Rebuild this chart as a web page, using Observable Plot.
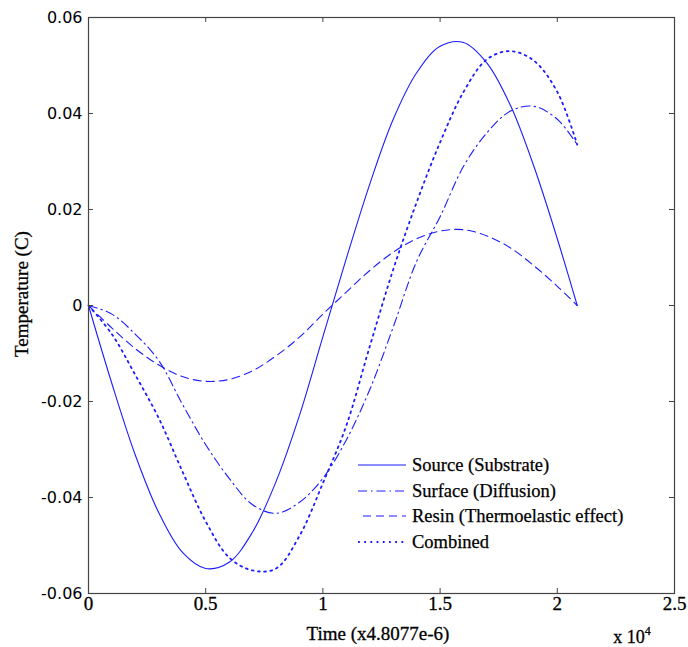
<!DOCTYPE html>
<html><head><meta charset="utf-8">
<script src="https://cdn.jsdelivr.net/npm/d3@7"></script>
<script src="https://cdn.jsdelivr.net/npm/@observablehq/plot@0.6"></script>
<style>
body{margin:0;background:#fff}
#wrap{position:relative;width:688px;height:647px}
#wrap .xtl, #wrap .xtl text{font-family:"Liberation Serif",serif !important}
#wrap .ytl, #wrap .ytl text{font-family:"DejaVu Sans",sans-serif !important}
.leg{position:absolute;left:358px;height:20px;display:flex;align-items:center;font-family:"Liberation Serif",serif;font-size:18.5px;color:#000;white-space:nowrap;-webkit-text-stroke:0.25px #000}
.leg svg{width:48px;height:20px;margin-right:6px}
</style></head>
<body><div id="wrap"></div>
<script>
const xs = [0,0.1,0.2,0.3,0.4,0.5,0.6,0.7,0.8,0.9,1.0,1.1,1.2,1.3,1.4,1.5,1.6,1.7,1.8,1.9,2.0,2.085];
const source   = [0,-0.0163,-0.0312,-0.0432,-0.0514,-0.0548,-0.0535,-0.0472,-0.0367,-0.0229,-0.0065,0.0098,0.0253,0.0388,0.0485,0.0540,0.0548,0.0505,0.0417,0.0290,0.0139,0];
const surface  = [0,-0.0018,-0.0060,-0.0115,-0.0205,-0.0290,-0.0360,-0.0415,-0.0433,-0.0410,-0.0360,-0.0280,-0.0175,-0.0045,0.0092,0.0185,0.0290,0.0360,0.0405,0.0415,0.0388,0.0335];
const resin    = [0,-0.0047,-0.0090,-0.0124,-0.0148,-0.0158,-0.0154,-0.0136,-0.0105,-0.0066,-0.0018,0.0028,0.0073,0.0111,0.0139,0.0155,0.0158,0.0145,0.0120,0.0083,0.0040,0];
const combined = [0,-0.0060,-0.0145,-0.0235,-0.0345,-0.0450,-0.0525,-0.0552,-0.0548,-0.0480,-0.0370,-0.0250,-0.0085,0.0075,0.0215,0.0340,0.0445,0.0513,0.0530,0.0510,0.0445,0.0335];
const seriesNames = ["Source (Substrate)","Surface (Diffusion)","Resin (Thermoelastic effect)","Combined"];
const xTicks = [0,0.5,1,1.5,2,2.5];
const xTickLabels = ["0","0.5","1","1.5","2","2.5"];
const yTicks = [-0.06,-0.04,-0.02,0,0.02,0.04,0.06];
const yTickLabels = ["-0.06","-0.04","-0.02","0","0.02","0.04","0.06"];

const W = 688, H = 647, mL = 88, mR = 14, mT = 17, mB = 54;
const innerW = W - mL - mR, innerH = H - mT - mB;
const blue = "#1c1cff";
const serif = "'Liberation Serif', serif";
const dashes = [null, "9,4,1.5,4", "8,5", "1.8,4.4"];
const widths = [1.1, 1.1, 1.1, 1.8];
const allSeries = [source, surface, resin, combined];

const lineMarks = allSeries.map((vals, k) =>
  Plot.line(xs.map((x, i) => ({x, y: vals[i]})), {
    x: "x", y: "y", stroke: blue, strokeWidth: widths[k],
    strokeDasharray: dashes[k] || undefined, curve: "catmull-rom"
  })
);

const chart = Plot.plot({
  width: W, height: H,
  marginLeft: mL, marginRight: mR, marginTop: mT, marginBottom: mB,
  x: {domain: [0, 2.5], axis: null},
  y: {domain: [-0.06, 0.06], axis: null},
  style: {background: "#fff"},
  marks: [
    ...lineMarks,
    Plot.frame({stroke: "#444", strokeWidth: 1.2}),
    Plot.tickX(xTicks, {x: d => d, insetTop: innerH - 5, stroke: "#444"}),
    Plot.tickX(xTicks, {x: d => d, insetBottom: innerH - 5, stroke: "#444"}),
    Plot.tickY(yTicks, {y: d => d, insetRight: innerW - 5, stroke: "#444"}),
    Plot.tickY(yTicks, {y: d => d, insetLeft: innerW - 5, stroke: "#444"}),
    Plot.text(xTicks, {x: d => d, frameAnchor: "bottom", lineAnchor: "top", dy: 3,
      text: (d, i) => xTickLabels[i], fontSize: 19, fontFamily: serif, fill: "#000",
      stroke: "#000", strokeWidth: 0.3, className: "xtl"}),
    Plot.text(yTicks, {y: d => d, frameAnchor: "left", textAnchor: "end", dx: -6,
      text: (d, i) => yTickLabels[i], fontSize: 16, fontFamily: "DejaVu Sans", fill: "#000", className: "ytl"})
  ]
});

const wrap = document.getElementById("wrap");
wrap.appendChild(chart);

const svg = d3.select(chart);
// ensure the tick-label fonts
svg.selectAll(".xtl text").style("font-family", serif);
svg.selectAll(".ytl text").style("font-family", "'DejaVu Sans', sans-serif");

svg.append("text").attr("x", 378).attr("y", 640).attr("text-anchor", "middle")
  .attr("font-family", serif).attr("font-size", 19).attr("fill", "#000")
  .attr("stroke", "#000").attr("stroke-width", 0.3)
  .text("Time (x4.8077e-6)");
const xm = svg.append("text").attr("x", 632).attr("y", 643)
  .attr("font-family", serif).attr("font-size", 18).attr("fill", "#000")
  .attr("stroke", "#000").attr("stroke-width", 0.3);
xm.append("tspan").text("x 10");
xm.append("tspan").attr("dy", -8).attr("font-size", 12).text("4");
svg.append("text").attr("transform", "translate(28,294) rotate(-90)").attr("text-anchor", "middle")
  .attr("font-family", serif).attr("font-size", 19).attr("fill", "#000")
  .attr("stroke", "#000").attr("stroke-width", 0.3)
  .text("Temperature (C)");

// legend
const rowY = [465, 491, 516, 542];
seriesNames.forEach((name, k) => {
  const row = document.createElement("div");
  row.className = "leg";
  row.style.top = (rowY[k] - 10) + "px";
  const x1 = k === 2 ? 5 : 0;
  row.innerHTML = `<svg viewBox="0 0 48 20"><line x1="${x1}" y1="10" x2="48" y2="10" stroke="${blue}" stroke-width="${widths[k]}" ${dashes[k] ? `stroke-dasharray="${dashes[k]}"` : ""}/></svg><span>${name}</span>`;
  wrap.appendChild(row);
});
</script>
</body></html>
